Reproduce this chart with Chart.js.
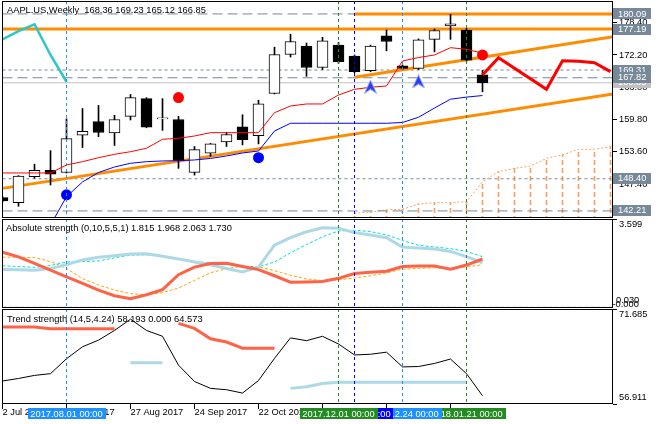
<!DOCTYPE html>
<html>
<head>
<meta charset="utf-8">
<title>AAPL.US Weekly</title>
<script src="https://cdn.jsdelivr.net/npm/chart.js@4.4.1/dist/chart.umd.min.js"></script>
<style>
    html, body { margin: 0; padding: 0; background: #fff; }
    #wrap { position: relative; width: 660px; height: 424px; overflow: hidden; }
    #wrap canvas { position: absolute; left: 0; }
</style>
</head>
<body>
<div id="wrap">
    <canvas id="main" width="660" height="218" style="top:0"></canvas>
    <canvas id="abs" width="660" height="90" style="top:218px"></canvas>
    <canvas id="trend" width="660" height="116" style="top:308px"></canvas>
</div>
<script>
/**
 * Data (one entry per weekly bar, bar 0 = 2 Jul 2017)
 */
const weekLabels = ['2 Jul 2017', '9 Jul 2017', '16 Jul 2017', '23 Jul 2017', '30 Jul 2017', '6 Aug 2017',
    '13 Aug 2017', '20 Aug 2017', '27 Aug 2017', '3 Sep 2017', '10 Sep 2017', '17 Sep 2017', '24 Sep 2017',
    '1 Oct 2017', '8 Oct 2017', '15 Oct 2017', '22 Oct 2017', '29 Oct 2017', '5 Nov 2017', '12 Nov 2017',
    '19 Nov 2017', '26 Nov 2017', '3 Dec 2017', '10 Dec 2017', '17 Dec 2017', '24 Dec 2017', '31 Dec 2017',
    '7 Jan 2018', '14 Jan 2018', '21 Jan 2018', '28 Jan 2018'];
const axisBars = [0, 4, 8, 12, 16, 20, 24, 28];

const openP  = [144.76, 143.8, 148.8, 150.0, 149.6, 156.8, 159.4, 157.2, 160.4, 163.8, 159.9, 159.8, 149.6, 153.3, 155.5, 158.4,
    156.7, 164.8, 172.3, 173.9, 169.8, 174.1, 172.0, 169.2, 175.9, 170.1, 169.6, 175.2, 177.8, 177.0, 168.36];
const highP  = [145.0, 149.0, 151.2, 153.8, 159.9, 161.9, 162.5, 160.6, 164.6, 164.0, 163.8, 160.4, 154.6, 155.2, 157.3, 160.7,
    163.5, 173.7, 176.2, 174.5, 175.6, 174.6, 172.2, 174.1, 177.0, 170.3, 175.3, 177.2, 180.0, 177.3, 169.23];
const lowP   = [143.9, 143.1, 148.5, 147.2, 149.5, 154.4, 156.5, 154.8, 159.7, 158.2, 157.7, 150.4, 149.1, 152.7, 154.6, 154.9,
    155.1, 164.7, 171.8, 168.1, 169.4, 170.6, 168.8, 169.0, 173.0, 169.4, 169.4, 172.8, 175.2, 171.0, 165.12];
const closeP = [144.12, 148.9, 150.0, 149.3, 156.1, 157.5, 157.3, 159.8, 164.0, 158.3, 160.0, 151.9, 154.0, 155.1, 156.9, 155.9,
    162.8, 172.3, 174.8, 169.8, 174.9, 170.9, 169.0, 173.9, 174.8, 169.6, 175.1, 176.9, 178.2, 171.2, 166.85];

// indicator lines on the price panel
const laggingLine = [175.2, 176.8, 178.1, 172.2, 167.05];                 // from bar 0
const redLine = [149.51, 149.51, 149.51, 149.51, 151.05, 151.68, 152.45, 153.1, 153.6, 154.26, 155.99, 156.18, 156.62,
    157.26, 157.26, 157.26, 157.26, 161.1, 162.39, 162.78, 162.78, 164.5, 165.6, 165.99, 166.24, 171.05, 171.7, 172.2,
    173.6, 173.3, 172.53];                                                  // from bar 0
const blueLine = [139.5, 144.95, 147.78, 149.6, 150.66, 151.37, 151.68, 151.82, 151.87, 152.01, 152.3, 152.78, 153.35,
    153.74, 157.58, 159.07, 159.07, 159.07, 159.07, 159.07, 159.07, 159.07, 159.22, 160.22, 162.0, 163.7, 164.1, 164.4]; // from bar 3
const cloudTop = [141.76, 142.0, 142.4, 142.53, 143.55, 143.8, 143.8, 143.99, 147.83, 149.75, 150.4, 150.85, 152.33,
    153.0, 154.06, 154.06, 154.57];                                         // from bar 22
const forecastLine = [168.35, 171.68, null, null, 165.6, 171.1, 170.99, 170.72, 168.99]; // from bar 30

const redDotBars = [11, 30];
const redDotPrices = [164.0, 172.2];
const blueDotBars = [4, 16];
const blueDotPrices = [145.3, 152.45];
const arrowBars = [23, 26];
const arrowPrices = [166.1, 167.1];

// drawn objects
const lowerTrendBars = [0, 38.2];
const lowerTrendPrices = [146.55, 164.7];
const upperTrendBars = [22, 38.2];
const upperTrendPrices = [167.91, 175.72];
const orangeLevels = [177.19, 180.09];
const orangeLevelStart = [0, 22];
const grayLevels = [180.09, 169.31, 167.82, 148.40, 142.21];
const levelBoxes = [180.09, 177.19, 169.31, 167.82, 148.40, 142.21];
const bidPrice = 166.85;
const priceTicks = [178.40, 172.20, 166.00, 159.80, 153.60, 147.40];

const timeLineBars = [4, 21, 22, 25, 29];
const timeLineTexts = ['2017.08.01 00:00', '2017.12.01 00:00', '2017.12.03 00:00', '2017.12.24 00:00', '2018.01.21 00:00'];

// Absolute strength panel
const absBlue = [1.543, 1.534, 1.514, 1.576, 1.743, 1.931, 2.035, 2.098, 2.168, 2.181, 2.077, 1.972, 1.847, 1.735, 1.584,
    1.443, 1.639, 2.535, 2.836, 3.078, 3.244, 3.224, 3.044, 2.944, 2.836, 2.452, 2.419, 2.377, 2.277, 2.068, 1.815];
const absTomato = [2.243, 2.056, 1.785, 1.513, 1.242, 0.971, 0.700, 0.471, 0.346, 0.512, 0.720, 1.326, 1.639, 1.785, 1.793,
    1.659, 1.534, 1.284, 1.025, 1.034, 1.055, 1.180, 1.376, 1.430, 1.472, 1.659, 1.680, 1.680, 1.555, 1.722, 1.968];
const absCyan = [1.693, 1.660, 1.626, 1.701, 1.847, 1.860, 1.889, 2.014, 2.126, 2.139, 2.077, 1.960, 1.868, 1.806, 1.751,
    1.660, 1.651, 1.847, 2.223, 2.556, 2.869, 3.111, 3.140, 3.086, 2.952, 2.723, 2.527, 2.460, 2.389, 2.277, 2.063];
const absOrange = [2.043, 2.035, 2.027, 1.860, 1.584, 1.167, 0.909, 0.700, 0.554, 0.512, 0.596, 0.783, 1.096, 1.409, 1.568,
    1.680, 1.651, 1.493, 1.305, 1.159, 1.084, 1.117, 1.192, 1.284, 1.401, 1.555, 1.584, 1.609, 1.584, 1.651, 1.730];

// Trend strength panel
const trendBlack = [60.49, 60.88, 61.36, 61.63, 63.95, 65.81, 66.84, 68.35, 70.10, 68.35, 67.44, 62.95, 60.41, 59.34, 59.13,
    58.61, 60.56, 64.01, 67.19, 66.76, 67.44, 66.24, 64.54, 64.65, 64.97, 62.68, 62.74, 63.22, 63.90, 61.63, 58.193];
const trendRed = [68.87, 68.87, 68.87, 68.62, 68.62, 68.62, 68.62, 68.62, null, null, null, 69.45, 68.67, 67.05, 66.55,
    65.60, 65.60, 65.60, null, null, null, null, null, null, null, null, null, null, null, null, null];
const trendBlue = [null, null, null, null, null, null, null, null, 63.31, 63.31, 63.31, null, null, null, null, null, null,
    null, 59.34, 59.61, 60.09, 60.30, 60.30, 60.30, 60.30, 60.30, 60.30, 60.30, 60.30, 60.30, null];

/**
 * Layout / style
 */
const FONT_FAMILY = "'Liberation Sans', Arial, sans-serif";
const FONT_SIZE = 9.3;
const FONT_CSS = FONT_SIZE + 'px ' + FONT_FAMILY;
const timeLineColors = ['#1e90ff', '#228b22', '#0000ff', '#1e90ff', '#228b22'];
const xMin = -1 / 32;
const xMax = xMin + 611 / 16;
const priceMin = 140.85;
const priceMax = 182.58;
const last = closeP.length - 1;

function pts(values, start) {
    return values.map((v, i) => ({x: start + i, y: v}));
}

function lineSet(data, color, width, extra) {
    return Object.assign({
        type: 'line', data: data, borderColor: color, borderWidth: width,
        pointRadius: 0, tension: 0, fill: false, clip: 0, spanGaps: false
    }, extra || {});
}

function markerSet(bars, prices, style, color, radius, order) {
    return {
        type: 'line', data: bars.map((k, i) => ({x: k, y: prices[i]})), showLine: false,
        pointStyle: style, pointRadius: radius, pointBackgroundColor: color, pointBorderColor: color,
        pointBorderWidth: 0, order: order, clip: 0
    };
}

function drawFrame(chart) {
    const {ctx, chartArea: a} = chart;
    ctx.save();
    ctx.strokeStyle = '#000';
    ctx.lineWidth = 1;
    ctx.strokeRect(a.left + 0.5, a.top + 0.5, a.right - a.left - 1, a.bottom - a.top - 1);
    ctx.restore();
}

function drawTimeLines(chart) {
    const {ctx, chartArea: a} = chart;
    const xs = chart.scales.x;
    ctx.save();
    ctx.lineWidth = 1;
    ctx.setLineDash([3, 3]);
    timeLineBars.forEach((k, i) => {
        const x = Math.round(xs.getPixelForValue(k) - 0.5) + 0.5;
        ctx.strokeStyle = timeLineColors[i];
        ctx.beginPath();
        ctx.moveTo(x, a.top);
        ctx.lineTo(x, a.bottom);
        ctx.stroke();
    });
    ctx.restore();
}

function drawText(ctx, text, x, y, color) {
    ctx.save();
    ctx.font = FONT_CSS;
    ctx.fillStyle = color || '#000';
    ctx.textAlign = 'left';
    ctx.textBaseline = 'middle';
    ctx.fillText(text, x, y);
    ctx.restore();
}

function priceBox(ctx, y, text, color) {
    ctx.save();
    ctx.fillStyle = color;
    ctx.fillRect(613, Math.round(y - 5.5), 38, 11);
    ctx.restore();
    drawText(ctx, text, 618, y, '#fff');
}

function xScaleOptions(show) {
    const o = {type: 'linear', min: xMin, max: xMax, offset: false, display: show};
    if (show) {
        o.afterBuildTicks = s => { s.ticks = axisBars.map(v => ({value: v})); };
        o.afterFit = s => { s.height = 20; };
        o.border = {display: false};
        o.grid = {drawOnChartArea: false, drawTicks: true, tickLength: 5, color: '#000'};
        o.ticks = {
            font: {family: FONT_FAMILY, size: FONT_SIZE}, color: '#000', align: 'start',
            maxRotation: 0, autoSkip: false, padding: -2,
            callback: v => weekLabels[v]
        };
    }
    return o;
}

// right axis: tick marks from Chart.js, labels drawn by the overlay plugins
// (so the axis does not pad the plot area for them)
function yScaleOptions(min, max, ticks) {
    return {
        position: 'right', min: min, max: max,
        afterBuildTicks: s => { s.ticks = ticks.map(v => ({value: v})); },
        afterFit: s => { s.width = 47; },
        border: {display: false},
        grid: {drawOnChartArea: false, drawTicks: true, tickLength: 4, color: '#000'},
        ticks: {display: false}
    };
}

function baseOptions(yOpts, showX) {
    return {
        responsive: false, animation: false, devicePixelRatio: 1, events: [],
        layout: {autoPadding: false, padding: {left: 2, top: 1, right: 0, bottom: 0}},
        plugins: {legend: {display: false}, tooltip: {enabled: false}},
        scales: {x: xScaleOptions(showX), y: yOpts}
    };
}

/**
 * Price panel
 */
const mainCanvas = document.getElementById('main');

const patternTile = document.createElement('canvas');
patternTile.width = 1;
patternTile.height = 8;
const pt = patternTile.getContext('2d');
pt.fillStyle = '#f4a460';
pt.fillRect(0, 0, 1, 5);
const cloudFill = mainCanvas.getContext('2d').createPattern(patternTile, 'repeat');

const arrowIcon = document.createElement('canvas');
arrowIcon.width = 13;
arrowIcon.height = 14;
const ag = arrowIcon.getContext('2d');
ag.beginPath();
ag.moveTo(6.5, 0.5);
ag.lineTo(12.5, 13.5);
ag.lineTo(6.5, 9.5);
ag.lineTo(0.5, 13.5);
ag.closePath();
ag.fillStyle = '#2a3ee8';
ag.fill();
ag.strokeStyle = '#8fa6ff';
ag.lineWidth = 1;
ag.stroke();

const mainSets = [];

// cloud (dashed histogram + dotted edge)
mainSets.push({
    type: 'bar', data: cloudTop.map((v, i) => ({x: 22 + i, y: [priceMin, v]})),
    backgroundColor: cloudFill, borderWidth: 0, barThickness: 1, grouped: false, order: 9, clip: 0
});
mainSets.push(lineSet(pts(cloudTop, 22), '#f4a460', 1, {borderDash: [2, 2], order: 8}));

// horizontal levels
grayLevels.forEach((p, i) => {
    const longDash = (i % 2 === 0);
    mainSets.push(lineSet([{x: 0, y: p}, {x: 38.2, y: p}], '#778899', 1,
        {borderDash: longDash ? [10, 5] : [3, 3], order: 7}));
});
mainSets.push(lineSet([{x: 0, y: bidPrice}, {x: 38.2, y: bidPrice}], '#c0c0c0', 1, {order: 7}));

// orange objects
orangeLevels.forEach((p, i) => {
    mainSets.push(lineSet([{x: orangeLevelStart[i], y: p}, {x: 38.2, y: p}], '#ff8c00', 3, {order: 6}));
});
mainSets.push(lineSet(lowerTrendBars.map((k, i) => ({x: k, y: lowerTrendPrices[i]})), '#ff8c00', 3, {order: 6}));
mainSets.push(lineSet(upperTrendBars.map((k, i) => ({x: k, y: upperTrendPrices[i]})), '#ff8c00', 3, {order: 6}));

// candles
mainSets.push({
    type: 'bar', data: lowP.map((l, i) => ({x: i, y: [l, highP[i]]})),
    backgroundColor: '#000', borderWidth: 0, barThickness: 1, grouped: false, order: 5, clip: 0
});
mainSets.push({
    type: 'bar', data: openP.map((o, i) => ({x: i, y: [o, closeP[i]]})),
    backgroundColor: ctx => (closeP[ctx.dataIndex] >= openP[ctx.dataIndex] ? '#fff' : '#000'),
    borderColor: '#000', borderWidth: 1, borderSkipped: false, minBarLength: 1,
    barThickness: 11, grouped: false, order: 4, clip: 0
});

// indicators
mainSets.push(lineSet(pts(redLine, 0), '#ff0000', 1, {order: 3}));
mainSets.push(lineSet(pts(blueLine, 3), '#0000ff', 1, {order: 3}));
mainSets.push(lineSet(pts(laggingLine, 0), '#2cc6c6', 2.5, {order: 2}));
mainSets.push(lineSet(pts(forecastLine, 30), '#ff0000', 3, {order: 2, spanGaps: true}));

mainSets.push(markerSet(redDotBars, redDotPrices, 'circle', '#ff0000', 5.5, 1));
mainSets.push(markerSet(blueDotBars, blueDotPrices, 'circle', '#0000ff', 5.5, 1));
mainSets.push(markerSet(arrowBars, arrowPrices, arrowIcon, '#2a3ee8', 6, 1));

const mainTitle = 'AAPL.US,Weekly  ' + [openP[last], highP[last], lowP[last], closeP[last]].map(v => v.toFixed(2)).join(' ');

new Chart(mainCanvas, {
    type: 'line',
    data: {datasets: mainSets},
    options: baseOptions(yScaleOptions(priceMin, priceMax, priceTicks), false),
    plugins: [{
        id: 'mainOverlay',
        afterDatasetsDraw(chart) {
            drawTimeLines(chart);
        },
        afterDraw(chart) {
            const ctx = chart.ctx;
            const y = chart.scales.y;
            drawFrame(chart);
            drawText(ctx, mainTitle, 7, 10);
            priceTicks.forEach(p => drawText(ctx, p.toFixed(2), 619, y.getPixelForValue(p)));
            priceBox(ctx, y.getPixelForValue(bidPrice), bidPrice.toFixed(2), '#c0c0c0');
            levelBoxes.forEach(p => priceBox(ctx, y.getPixelForValue(p), p.toFixed(2), '#778899'));
        }
    }]
});

/**
 * Absolute strength panel
 */
const absTitle = 'Absolute strength (0,10,5,5,1) ' + [absBlue, absTomato, absCyan, absOrange].map(a => a[last].toFixed(3)).join(' ');

new Chart(document.getElementById('abs'), {
    type: 'line',
    data: {
        datasets: [
            lineSet([{x: 0, y: 0}, {x: 38.2, y: 0}], '#a0a0a0', 1, {borderDash: [4, 2], order: 5}),
            lineSet(pts(absOrange, 0), '#ffa500', 1, {borderDash: [3, 2], order: 4}),
            lineSet(pts(absCyan, 0), '#00dede', 1, {borderDash: [3, 2], order: 3}),
            lineSet(pts(absBlue, 0), '#add8e6', 3, {order: 2}),
            lineSet(pts(absTomato, 0), '#ff6347', 3, {order: 1})
        ]
    },
    options: baseOptions(yScaleOptions(-0.030, 3.599, [3.599, -0.030]), false),
    plugins: [{
        id: 'absOverlay',
        afterDatasetsDraw(chart) {
            drawTimeLines(chart);
        },
        afterDraw(chart) {
            const ctx = chart.ctx;
            drawFrame(chart);
            drawText(ctx, absTitle, 6, 10);
            drawText(ctx, '3.599', 619, 6);
            drawText(ctx, '0.030', 616, 82.5);
            drawText(ctx, '-0.000', 612.5, 86.5);
        }
    }]
});

/**
 * Trend strength panel
 */
new Chart(document.getElementById('trend'), {
    type: 'line',
    data: {
        datasets: [
            lineSet(pts(trendBlue, 0), '#add8e6', 3, {order: 3}),
            lineSet(pts(trendRed, 0), '#ff6347', 3, {order: 2}),
            lineSet(pts(trendBlack, 0), '#000', 1, {order: 1})
        ]
    },
    options: baseOptions(yScaleOptions(56.911, 71.685, [71.685, 56.911]), true),
    plugins: [{
        id: 'trendOverlay',
        afterDatasetsDraw(chart) {
            drawTimeLines(chart);
        },
        afterDraw(chart) {
            const ctx = chart.ctx;
            const xs = chart.scales.x;
            drawFrame(chart);
            drawText(ctx, 'Trend strength (14,5,4.24) 58.193 0.000 64.573', 7, 11);
            drawText(ctx, '71.685', 619, 6.5);
            drawText(ctx, '56.911', 619, 89.5);

            // time tags under the axis, right one first so the left one stays on top
            ctx.save();
            ctx.font = FONT_CSS;
            ctx.textAlign = 'center';
            ctx.textBaseline = 'middle';
            for (let i = timeLineBars.length - 1; i >= 0; i--) {
                const x = xs.getPixelForValue(timeLineBars[i]);
                ctx.fillStyle = timeLineColors[i];
                ctx.fillRect(Math.round(x - 39), 100, 78, 11);
                ctx.fillStyle = '#fff';
                ctx.fillText(timeLineTexts[i], x, 106);
            }
            ctx.restore();
        }
    }]
});
</script>
</body>
</html>
